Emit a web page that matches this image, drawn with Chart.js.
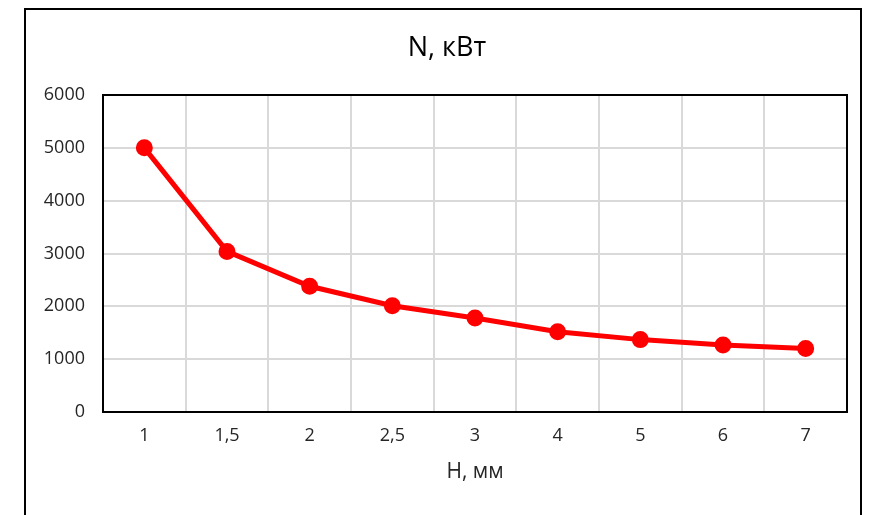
<!DOCTYPE html>
<html>
<head>
<meta charset="utf-8">
<script src="https://cdn.jsdelivr.net/npm/chart.js@4"></script>
<style>
  html, body { margin: 0; padding: 0; background: #fff; }
  #wrap { width: 875px; height: 515px; }
</style>
</head>
<body>
<div id="wrap"><canvas id="chart" width="875" height="515"></canvas></div>
<script>
// data
const categories = ['1', '1,5', '2', '2,5', '3', '4', '5', '6', '7'];
const powerValues = [5000, 3040, 2380, 2010, 1780, 1520, 1370, 1270, 1200];
const yTicks = [0, 1000, 2000, 3000, 4000, 5000, 6000];

const chartTitle = 'N, кВт';
const xTitle = 'H, мм';

const fontFamily = "'Open Sans', 'Noto Sans', sans-serif";
const textColor = '#262626';

// outer frame, plot border and title
const framePlugin = {
    id: 'frame',
    beforeDraw(chart) {
        const c = chart.ctx;
        c.save();
        c.fillStyle = '#fff';
        c.fillRect(0, 0, chart.width, chart.height);
        c.strokeStyle = '#000';
        c.lineWidth = 2;
        c.strokeRect(25, 9, 836, 520);
        c.restore();
    },
    afterDraw(chart) {
        const c = chart.ctx;
        const a = chart.chartArea;
        c.save();
        c.strokeStyle = '#000';
        c.lineWidth = 2;
        c.strokeRect(a.left, a.top, a.right - a.left, a.bottom - a.top);
        c.fillStyle = '#000';
        c.font = "27px " + fontFamily;
        c.textAlign = 'center';
        c.textBaseline = 'middle';
        c.fillText(chartTitle, 447, 48);
        c.restore();
    }
};

new Chart(document.getElementById('chart'), {
    type: 'line',
    data: {
        labels: categories,
        datasets: [{
            data: powerValues,
            borderColor: '#ff0000',
            backgroundColor: '#ff0000',
            borderWidth: 5,
            pointRadius: 6,
            pointHoverRadius: 6,
            tension: 0,
            clip: false
        }]
    },
    options: {
        responsive: false,
        animation: false,
        layout: { padding: { top: 95, right: 28, left: 24, bottom: 0 } },
        plugins: {
            legend: { display: false },
            title: { display: false },
            tooltip: { enabled: false }
        },
        scales: {
            x: {
                offset: true,
                grid: { color: '#d9d9d9', lineWidth: 2, offset: true, drawTicks: false },
                border: { display: false },
                ticks: { color: textColor, font: { family: fontFamily, size: 18 }, padding: 13, maxRotation: 0 },
                title: {
                    display: true,
                    text: xTitle,
                    color: textColor,
                    font: { family: fontFamily, size: 21 },
                    padding: { top: 8, bottom: 30 }
                },
                afterFit(scale) { scale.height = 103; }
            },
            y: {
                min: 0,
                max: 6000,
                afterBuildTicks(scale) { scale.ticks = yTicks.map(v => ({ value: v })); },
                grid: { color: '#d9d9d9', lineWidth: 2, drawTicks: false },
                border: { display: false },
                ticks: {
                    color: textColor,
                    font: { family: fontFamily, size: 18 },
                    padding: 18,
                    callback: v => String(v)
                },
                afterFit(scale) { scale.width = 79; }
            }
        }
    },
    plugins: [framePlugin]
});
</script>
</body>
</html>
